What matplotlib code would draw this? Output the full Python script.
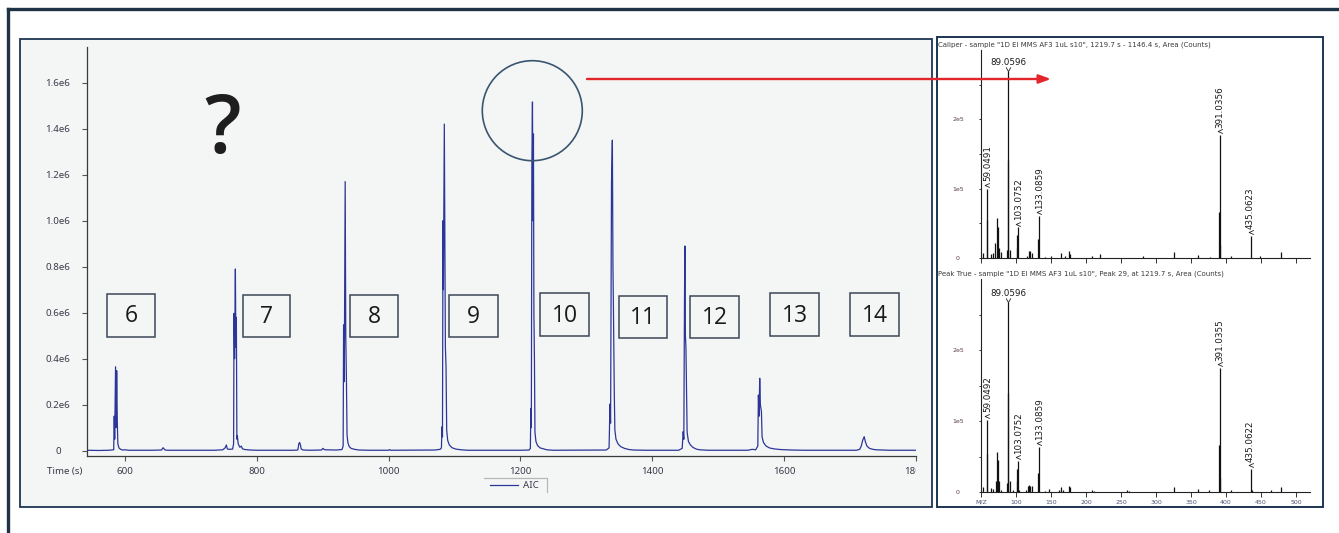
import matplotlib
matplotlib.use("Agg")
import matplotlib.pyplot as plt
from matplotlib.patches import Rectangle, Circle
from matplotlib.path import Path
from matplotlib import transforms
from matplotlib.transforms import Bbox, TransformedBbox

# ---------------------------------------------------------------- data
# total ion chromatogram (time in s, signal in units of 1e6 counts)
chrom_time = [
    541.5, 560, 575, 582.5, 583.3, 584.0, 585.3, 586.2, 587.0, 588.0, 588.8, 590.5, 593, 596, 600, 605,
    640, 655, 657.5, 660, 663, 700, 735, 748, 751.5, 753.5, 755, 757, 763,
    764.5, 765.2, 766.0, 767.2, 768.0, 768.7, 769.5, 770.2, 771.5, 774, 776.3, 778, 782, 790, 800,
    855, 862, 863.5, 864.7, 866, 867, 870, 880, 898, 900, 903, 920, 929,
    930.8, 931.5, 932.5, 933.9, 934.8, 935.9, 936.7, 938, 940, 943, 948, 955, 970,
    1000, 1001, 1003, 1070, 1078, 1080,
    1080.9, 1081.6, 1082.4, 1083.0, 1084.4, 1085.2, 1086.0, 1087, 1088, 1089.5, 1092, 1096, 1102, 1110, 1120,
    1200, 1213, 1215,
    1215.8, 1216.5, 1217.3, 1218.2, 1219.0, 1219.7, 1220.4, 1221.2, 1222, 1223.5, 1226, 1230, 1235, 1240, 1250,
    1330, 1334.5,
    1335.9, 1336.8, 1338.2, 1339.5, 1340.4, 1341.2, 1342.4, 1343.3, 1345, 1348, 1352, 1358, 1365, 1372, 1390,
    1440, 1445.5,
    1447, 1448, 1449, 1449.6, 1450.4, 1451.2, 1452, 1453, 1455, 1458, 1462, 1467, 1472, 1485,
    1545, 1552, 1557, 1560.3,
    1561.2, 1562.2, 1563.2, 1564.2, 1565.8, 1566.8, 1569, 1573, 1578, 1585, 1595, 1605, 1612, 1630,
    1710, 1715, 1717.3, 1719.5, 1721.8, 1723.5, 1726, 1730, 1735, 1740, 1750, 1760, 1800,
]
chrom_signal = [
    0.002, 0.001, 0.002, 0.004, 0.150, 0.050, 0.365, 0.100, 0.348, 0.120, 0.030, 0.012, 0.006, 0.003, 0.004, 0.002,
    0.002, 0.003, 0.013, 0.004, 0.002, 0.002, 0.002, 0.004, 0.012, 0.025, 0.008, 0.006, 0.007,
    0.030, 0.597, 0.400, 0.790, 0.450, 0.580, 0.050, 0.065, 0.030, 0.015, 0.020, 0.008, 0.005, 0.003, 0.002,
    0.002, 0.003, 0.030, 0.036, 0.025, 0.008, 0.003, 0.002, 0.003, 0.010, 0.004, 0.003, 0.005,
    0.020, 0.547, 0.300, 1.170, 0.500, 0.286, 0.070, 0.035, 0.018, 0.010, 0.006, 0.003, 0.002,
    0.002, 0.005, 0.002, 0.003, 0.006, 0.012,
    0.104, 0.060, 1.000, 0.700, 1.420, 0.900, 0.450, 0.365, 0.090, 0.045, 0.025, 0.013, 0.007, 0.004, 0.002,
    0.002, 0.003, 0.010,
    0.184, 0.100, 1.235, 1.516, 1.000, 1.377, 0.600, 0.400, 0.080, 0.040, 0.022, 0.012, 0.008, 0.004, 0.002,
    0.003, 0.012,
    0.203, 0.120, 1.165, 1.350, 0.800, 0.600, 0.257, 0.090, 0.050, 0.030, 0.018, 0.010, 0.005, 0.003, 0.002,
    0.002, 0.010,
    0.083, 0.050, 0.655, 0.890, 0.500, 0.450, 0.270, 0.080, 0.040, 0.025, 0.014, 0.007, 0.004, 0.002,
    0.002, 0.006, 0.004, 0.020,
    0.242, 0.150, 0.315, 0.200, 0.170, 0.060, 0.035, 0.020, 0.012, 0.008, 0.005, 0.004, 0.003, 0.002,
    0.002, 0.006, 0.020, 0.045, 0.061, 0.040, 0.020, 0.010, 0.006, 0.004, 0.003, 0.002, 0.002,
]
chrom_yticks = [0, 0.2, 0.4, 0.6, 0.8, 1.0, 1.2, 1.4, 1.6]
chrom_yticklabels = ["0", "0.2e6", "0.4e6", "0.6e6", "0.8e6", "1.0e6", "1.2e6", "1.4e6", "1.6e6"]
chrom_xticks = [600, 800, 1000, 1200, 1400, 1600, 1800]
chrom_xticklabels = ["600", "800", "1000", "1200", "1400", "1600", "1800"]
carbon_numbers = ["6", "7", "8", "9", "10", "11", "12", "13", "14"]

# mass spectra (m/z, intensity in units of 1e5 counts)
top_title = 'Caliper - sample "1D EI MMS AF3 1uL s10", 1219.7 s - 1146.4 s, Area (Counts)'
top_mz = [52.4, 58.6, 59.0491, 64.7, 66.7, 70.5, 72.4, 74.3, 76.2, 78.1, 86.6, 88.1, 89.0596, 90.9,
          101.0, 102.0, 103.0752, 116.0, 118.5, 120.4, 122.4, 132.0, 133.0859, 141.0, 150.0, 163.7,
          170.0, 176.0, 177.5, 208.4, 220.0, 281.0, 326.0, 360.7, 377.0, 390.0, 391.0356, 392.0,
          406.8, 435.0623, 448.7, 478.6]
top_int = [0.07, 0.55, 1.00, 0.06, 0.07, 0.21, 0.58, 0.44, 0.14, 0.086, 0.12, 1.41, 2.70, 0.12,
           0.33, 0.14, 0.44, 0.024, 0.105, 0.105, 0.07, 0.27, 0.61, 0.014, 0.024, 0.07,
           0.024, 0.095, 0.06, 0.033, 0.06, 0.024, 0.086, 0.048, 0.014, 0.67, 1.77, 0.19,
           0.033, 0.32, 0.024, 0.08]
top_label_mz = [59.0491, 89.0596, 103.0752, 133.0859, 391.0356, 435.0623]

bot_title = 'Peak True - sample "1D EI MMS AF3 1uL s10", Peak 29, at 1219.7 s, Area (Counts)'
bot_mz = [52.4, 58.6, 59.0492, 64.7, 66.7, 71.2, 72.6, 74.0, 76.0, 78.1, 86.6, 88.1, 89.0596, 90.9,
          95.2, 101.0, 102.0, 103.0752, 104.7, 114.0, 116.5, 118.4, 120.4, 122.4, 132.0, 133.0859,
          141.0, 147.5, 160.8, 163.7, 167.0, 176.0, 177.5, 208.4, 212.1, 258.4, 261.7, 326.0, 360.7,
          376.0, 390.0, 391.0355, 392.0, 406.8, 435.0622, 436.5, 464.0, 478.6]
bot_int = [0.065, 0.54, 1.02, 0.056, 0.042, 0.15, 0.56, 0.45, 0.16, 0.03, 0.12, 1.40, 2.68, 0.15,
           0.03, 0.33, 0.15, 0.44, 0.03, 0.03, 0.08, 0.10, 0.09, 0.08, 0.27, 0.63,
           0.02, 0.04, 0.03, 0.07, 0.03, 0.08, 0.07, 0.03, 0.02, 0.03, 0.02, 0.07, 0.04,
           0.03, 0.66, 1.75, 0.20, 0.03, 0.32, 0.03, 0.03, 0.07]
bot_label_mz = [59.0492, 89.0596, 103.0752, 133.0859, 391.0355, 435.0622]

spec_yticks = [0, 1, 2]
spec_yticklabels = ["0", "1e5", "2e5"]
spec_yminor = [0.5, 1.5, 2.5]
spec_xticks = [50, 100, 150, 200, 250, 300, 350, 400, 450, 500]
spec_xticklabels = ["M/Z", "100", "150", "200", "250", "300", "350", "400", "450", "500"]

# ---------------------------------------------------------------- layout
W, H = 1339, 533
PT = 72.0 / 100.0  # points per pixel at 100 dpi
fig = plt.figure(figsize=(W / 100, H / 100), dpi=100)
fig.patch.set_facecolor("white")


def px_rect(x0, y0, x1, y1):
    return [x0 / W, 1 - y1 / H, (x1 - x0) / W, (y1 - y0) / H]


NAVY = "#1d3553"
BLUE = "#2c3698"

bg = fig.add_axes([0, 0, 1, 1], zorder=0)
bg.set_xlim(0, W)
bg.set_ylim(H, 0)
bg.axis("off")
bg.plot([8.3, 8.3], [H + 5, 8.8], color="#1f3346", lw=2.4, solid_capstyle="projecting")
bg.plot([8.3, W + 5], [8.8, 8.8], color="#1f3346", lw=2.4, solid_capstyle="projecting")
bg.add_patch(Rectangle((19.8, 38.8), 931.5 - 19.8, 507.2 - 38.8, fc="#f4f6f6", ec=NAVY, lw=1.3))
bg.add_patch(Rectangle((937.2, 37.3), 1323 - 937.2, 507.2 - 37.3, fc="white", ec=NAVY, lw=1.4))

# ---------------------------------------------------------------- chromatogram
ax = fig.add_axes(px_rect(86.7, 47, 915.7, 456), zorder=1)
ax.patch.set_alpha(0)
line, = ax.plot(chrom_time, chrom_signal, color=BLUE, lw=0.9, label="AIC")
ax.set_xlim(541.5, 1800)
ax.set_ylim(-0.023, 1.755)
for s in ["top", "right"]:
    ax.spines[s].set_visible(False)
for s in ["left", "bottom"]:
    ax.spines[s].set_color("#3a3a3a")
    ax.spines[s].set_linewidth(0.9)
ax.set_yticks(chrom_yticks, labels=chrom_yticklabels)
ax.set_xticks(chrom_xticks, labels=chrom_xticklabels)
ax.tick_params(axis="y", length=5 * PT, width=0.8, color="#555555", pad=23.7 * PT,
               labelsize=7, labelcolor="#3a3a4a")
ax.tick_params(axis="x", length=5 * PT, width=0.8, color="#555555", pad=4.3,
               labelsize=7, labelcolor="#3a3a4a")
for t in ax.get_yticklabels():
    t.set_ha("center")
    t.set_family("Noto Sans")
clipbox = TransformedBbox(Bbox.from_extents(0, 0, 9.157, H / 100), fig.dpi_scale_trans)
for t in ax.get_xticklabels():
    t.set_family("Noto Sans")
    t.set_clip_on(True)
    t.set_clip_box(clipbox)
fig.text(64.7 / W, 1 - 471.5 / H, "Time (s)", ha="center", va="center", fontsize=7,
         family="Noto Sans", color="#3a3a4a")

leg = ax.legend(handles=[line], loc="center", bbox_to_anchor=(514.5 / W, 1 - 485.5 / H),
                bbox_transform=fig.transFigure, frameon=False, handlelength=2.8,
                handletextpad=0.55, borderpad=0.2, prop={"family": "Noto Sans", "size": 7})
for txt in leg.get_texts():
    txt.set_color("#3a3a4a")

# ---------------------------------------------------------------- overlay annotations
ov = fig.add_axes([0, 0, 1, 1], zorder=5)
ov.set_xlim(0, W)
ov.set_ylim(H, 0)
ov.axis("off")

ov.plot([484, 547, 547], [477.5, 477.5, 492], color="#b5b8bb", lw=0.9)

box_layout = [(131, 315, 48, 43), (266.7, 316.2, 47, 42), (374.2, 316.2, 48, 42),
              (473.3, 316.2, 48.5, 42), (564.5, 314.7, 49, 42.5), (642.7, 317.2, 48, 42.5),
              (714.7, 317.2, 49, 42.5), (794.7, 314.7, 49, 42.5), (874.7, 314.7, 49, 42.5)]
for num, (cx, cy, bw, bh) in zip(carbon_numbers, box_layout):
    ov.add_patch(Rectangle((cx - bw / 2, cy - bh / 2), bw, bh, fill=False, ec="#3b4756", lw=1.1))
    ov.text(cx, cy + 1, num, ha="center", va="center", fontsize=16.5, family="Open Sans",
            color="#1a1a1a")

ov.text(222.5, 132, "?", ha="center", va="center", fontsize=58, family="Open Sans",
        fontweight="semibold", color="#1e1e1e")
ov.add_patch(Circle((532.3, 110.7), 50, fill=False, ec="#3a5570", lw=1.2))
ov.annotate("", xy=(1051, 79), xytext=(587, 79),
            arrowprops=dict(arrowstyle="-|>,head_length=0.55,head_width=0.2", color="#e3262c",
                            lw=1.7, mutation_scale=13, shrinkA=0, shrinkB=0))

# ---------------------------------------------------------------- spectra
caret_left = Path([(0.85, 0.75), (-0.85, 0.0), (0.85, -0.75)], [Path.MOVETO, Path.LINETO, Path.LINETO])
caret_down = Path([(-0.85, 0.75), (0.0, -0.75), (0.85, 0.75)], [Path.MOVETO, Path.LINETO, Path.LINETO])


def draw_spectrum(rect, mz, inten, label_mz, title, title_y, show_xlabels):
    a = fig.add_axes(px_rect(*rect), zorder=2)
    a.patch.set_alpha(0)
    a.vlines(mz, 0, inten, color="#111111", lw=0.9)
    a.set_xlim(50, 520)
    a.set_ylim(0, 3.0)
    for s in ["top", "right"]:
        a.spines[s].set_visible(False)
    for s in ["left", "bottom"]:
        a.spines[s].set_color("#222222")
        a.spines[s].set_linewidth(0.8)
    a.set_yticks(spec_yticks, labels=spec_yticklabels)
    a.set_yticks(spec_yminor, minor=True)
    a.set_xticks(spec_xticks, labels=spec_xticklabels if show_xlabels else [""] * len(spec_xticks))
    a.tick_params(axis="y", which="both", length=2.3 * PT, width=0.7, color="#333333",
                  pad=20.7 * PT, labelsize=4.5, labelcolor="#5e3e3e")
    a.tick_params(axis="x", length=5 * PT, width=0.7, color="#333333", pad=2.0,
                  labelsize=4.5, labelcolor="#4d5575")
    for t in a.get_yticklabels():
        t.set_ha("center")
    fig.text(937.8 / W, 1 - title_y / H, title, ha="left", va="center", fontsize=5.0,
             color="#3b3b3b")
    hmax = max(inten)
    for lm in label_mz:
        h = inten[mz.index(lm)]
        if h == hmax:
            a.plot([lm], [h], marker=caret_down, ms=3.4, mfc="none", mec="#222222", mew=0.6,
                   transform=transforms.offset_copy(a.transData, fig=fig, x=0, y=1.5, units="dots"))
            a.annotate(f"{lm:.4f}", xy=(lm, h), xytext=(0, 5.7 * PT), textcoords="offset points",
                       ha="center", va="baseline", fontsize=6.3, color="#1a1a1a")
        else:
            a.plot([lm], [h], marker=caret_left, ms=3.4, mfc="none", mec="#222222", mew=0.6,
                   transform=transforms.offset_copy(a.transData, fig=fig, x=0, y=3.8, units="dots"))
            a.annotate(f"{lm:.4f}", xy=(lm, h), xytext=(0, 7.2 * PT), textcoords="offset points",
                       ha="center", va="bottom", rotation=90, fontsize=6.3, color="#1a1a1a")
    return a


draw_spectrum((981, 50, 1310, 258), top_mz, top_int, top_label_mz, top_title, 44.3, False)
draw_spectrum((981, 279, 1310, 492), bot_mz, bot_int, bot_label_mz, bot_title, 273.8, True)

fig.savefig("out.png", dpi=100, facecolor="white")
